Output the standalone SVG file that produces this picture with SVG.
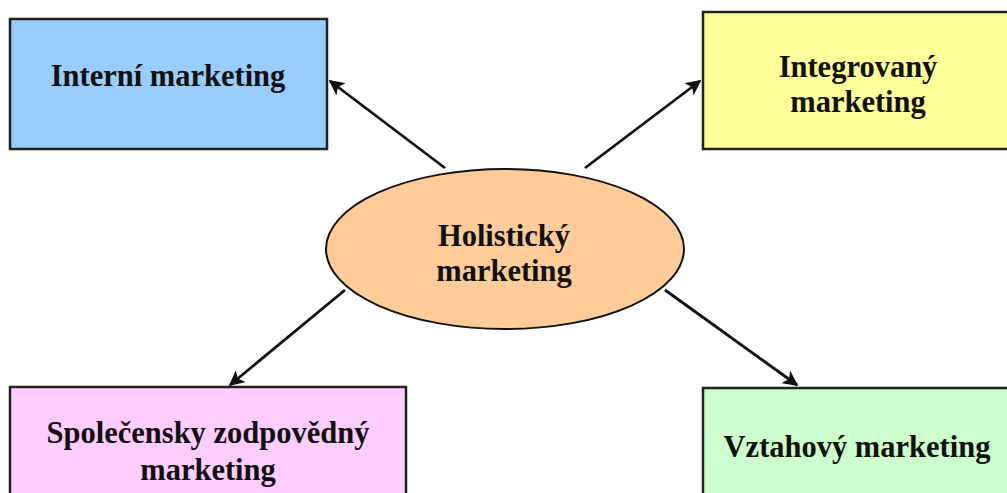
<svg xmlns="http://www.w3.org/2000/svg" width="1007" height="493" viewBox="0 0 1007 493">
<defs>
<style>
.box{stroke:#222;stroke-width:2.5}
.t{font-family:"Liberation Serif","Times New Roman",serif;font-weight:bold;font-size:30.5px;fill:#111;text-anchor:middle}
.c{stroke:#111;stroke-width:2.8;fill:none;marker-end:url(#ah)}
</style>
<marker id="ah" viewBox="0 0 10 10" refX="9" refY="5" markerWidth="5.5" markerHeight="5.5" orient="auto" markerUnits="strokeWidth">
<path d="M0,0 L10,5 L0,10 L2.5,5 z" fill="#111"/>
</marker>
</defs>
<rect width="1007" height="493" fill="#fff"/>
<g id="connectors">
<line class="c" x1="445" y1="168" x2="330" y2="81"/>
<line class="c" x1="585" y1="168" x2="700" y2="81"/>
<line class="c" x1="345" y1="290" x2="230" y2="385"/>
<line class="c" x1="665" y1="290" x2="797" y2="385"/>
</g>
<g id="interni">
<rect class="box" x="10" y="19" width="317" height="130" fill="#99CCFF"/>
<text class="t" x="168" y="86">Interní marketing</text>
</g>
<g id="integrovany">
<rect class="box" x="703" y="12" width="320" height="137" fill="#FFFF99"/>
<text class="t" x="858" y="77">Integrovaný</text>
<text class="t" x="858" y="112">marketing</text>
</g>
<g id="holisticky">
<ellipse cx="505" cy="249" rx="179" ry="80" fill="#FFCC99" stroke="#111" stroke-width="2"/>
<text class="t" x="504" y="246">Holistický</text>
<text class="t" x="504" y="281">marketing</text>
</g>
<g id="spolecensky">
<rect class="box" x="10" y="387" width="396" height="130" fill="#FFCCFF"/>
<text class="t" x="208" y="443">Společensky zodpovědný</text>
<text class="t" x="208" y="480">marketing</text>
</g>
<g id="vztahovy">
<rect class="box" x="703" y="388" width="320" height="130" fill="#CCFFCC"/>
<text class="t" x="857" y="457">Vztahový marketing</text>
</g>
</svg>
